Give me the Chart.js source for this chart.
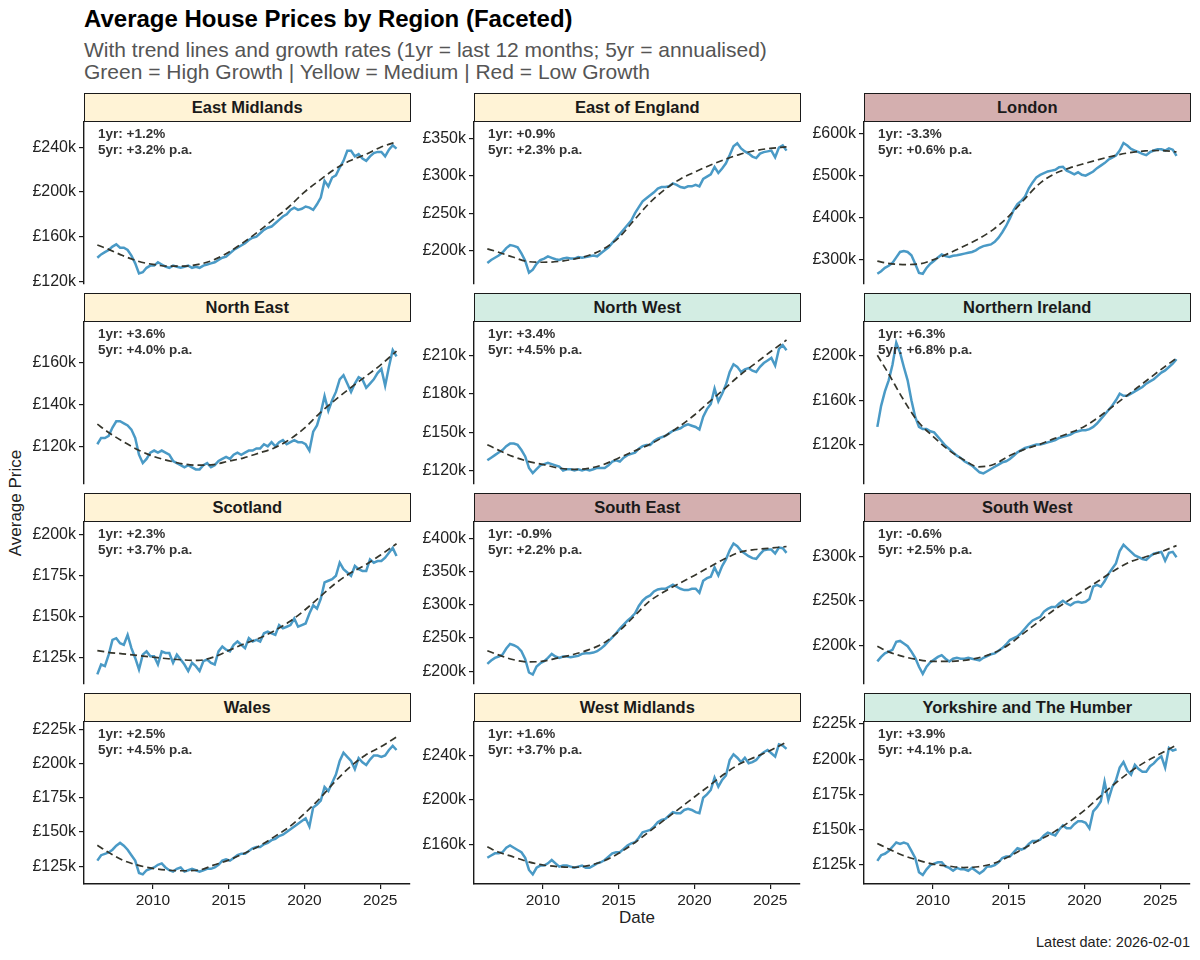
<!DOCTYPE html>
<html>
<head>
<meta charset="utf-8">
<script src="https://cdn.jsdelivr.net/npm/chart.js@4.4.1/dist/chart.umd.min.js"></script>
<style>
  body { margin: 0; background: #fff; font-family: "Liberation Sans", Arial, sans-serif; }
  #page { position: relative; width: 1200px; height: 960px; overflow: hidden; }
  .abs { position: absolute; }
  .title { left: 84px; top: 5px; font-size: 24px; font-weight: bold; color: #000; white-space: nowrap; }
  .subtitle { left: 84px; top: 39px; font-size: 21px; line-height: 21.5px; color: #555; white-space: nowrap; }
  .strip { box-sizing: border-box; border: 1.4px solid #1a1a1a; font-size: 16.5px; font-weight: bold;
           color: #1a1a1a; display: flex; align-items: center; justify-content: center; }
  .note { font-size: 13.5px; font-weight: bold; line-height: 15.7px; color: #333; white-space: nowrap; }
  .axis-title { font-size: 17px; color: #222; white-space: nowrap; }
  canvas { position: absolute; }
</style>
</head>
<body>
<div id="page">
  <div class="abs title">Average House Prices by Region (Faceted)</div>
  <div class="abs subtitle">With trend lines and growth rates (1yr = last 12 months; 5yr = annualised)<br>Green = High Growth | Yellow = Medium | Red = Low Growth</div>
  <div class="abs axis-title" style="left:16px; top:503px; transform: translate(-50%,-50%) rotate(-90deg);">Average Price</div>
  <div class="abs axis-title" style="left:637px; top:918px; transform: translate(-50%,-50%);">Date</div>
  <div class="abs" style="right:10px; top:934px; font-size:14.5px; color:#222;">Latest date: 2026-02-01</div>
</div>
<script>
// ---- data (prices in £ thousands) ----
const regions = ['East Midlands', 'East of England', 'London', 'North East', 'North West', 'Northern Ireland',
                 'Scotland', 'South East', 'South West', 'Wales', 'West Midlands', 'Yorkshire and The Humber'];
const growthBand = ['Medium', 'Medium', 'Low', 'Medium', 'High', 'High',
                    'Medium', 'Low', 'Low', 'Medium', 'Medium', 'High'];
const oneYear = ['+1.2%', '+0.9%', '-3.3%', '+3.6%', '+3.4%', '+6.3%', '+2.3%', '-0.9%', '-0.6%', '+2.5%', '+1.6%', '+3.9%'];
const fiveYear = ['+3.2%', '+2.3%', '+0.6%', '+4.0%', '+4.5%', '+6.8%', '+3.7%', '+2.2%', '+2.5%', '+4.5%', '+3.7%', '+4.1%'];

const dates = [
  2006.33, 2006.58, 2006.83,
  2007.08, 2007.33, 2007.58, 2007.83,
  2008.08, 2008.33, 2008.58, 2008.83,
  2009.08, 2009.33, 2009.58, 2009.83,
  2010.08, 2010.33, 2010.58, 2010.83,
  2011.08, 2011.33, 2011.58, 2011.83,
  2012.08, 2012.33, 2012.58, 2012.83,
  2013.08, 2013.33, 2013.58, 2013.83,
  2014.08, 2014.33, 2014.58, 2014.83,
  2015.08, 2015.33, 2015.58, 2015.83,
  2016.08, 2016.33, 2016.58, 2016.83,
  2017.08, 2017.33, 2017.58, 2017.83,
  2018.08, 2018.33, 2018.58, 2018.83,
  2019.08, 2019.33, 2019.58, 2019.83,
  2020.08, 2020.33, 2020.58, 2020.83,
  2021.08, 2021.33, 2021.58, 2021.83,
  2022.08, 2022.33, 2022.58, 2022.83,
  2023.08, 2023.33, 2023.58, 2023.83,
  2024.08, 2024.33, 2024.58, 2024.83,
  2025.08, 2025.33, 2025.58, 2025.83,
  2026.08
];

const eastMidlands = [141, 144, 146, 148, 151, 153, 150, 150, 148, 143, 136, 127, 128, 132, 134, 134, 137, 135, 133,
  132, 134, 133, 132, 133, 134, 132, 133, 132, 134, 135, 136, 137, 139, 141, 142, 145, 148, 150, 152,
  154, 157, 159, 160, 163, 166, 168, 169, 172, 175, 178, 180, 184, 186, 184, 185, 187, 186, 184, 189,
  195, 210, 205, 213, 215, 222, 228, 237, 237, 232, 234, 230, 228, 232, 235, 236, 236, 232, 238, 242, 239];
const eastOfEngland = [183, 187, 190, 193, 197, 203, 207, 206, 204, 196, 186, 170, 174, 182, 187, 189, 192, 190, 188,
  187, 189, 190, 189, 189, 191, 190, 191, 192, 193, 192, 196, 200, 204, 210, 216, 222, 228, 234, 240,
  250, 258, 266, 270, 274, 278, 283, 285, 285, 286, 290, 288, 285, 284, 286, 286, 288, 286, 296, 299,
  302, 312, 304, 310, 317, 328, 340, 344, 337, 333, 330, 326, 324, 330, 332, 333, 334, 325, 338, 341, 334];
const london = [266, 272, 280, 285, 292, 305, 318, 320, 318, 310, 290, 268, 266, 280, 290, 297, 305, 312, 308,
  306, 309, 310, 312, 314, 316, 318, 322, 328, 332, 334, 336, 342, 352, 365, 380, 398, 418, 432, 440,
  450, 470, 484, 496, 502, 506, 510, 512, 514, 520, 521, 512, 508, 503, 508, 502, 500, 505, 510, 518,
  524, 530, 538, 543, 548, 560, 578, 572, 564, 560, 556, 552, 549, 556, 560, 563, 563, 560, 565, 562, 547];
const northEast = [121, 124, 124, 125, 129, 132, 132, 131, 130, 128, 124, 116, 112, 114, 117, 118, 117, 118, 117,
  116, 113, 112, 111, 110, 111, 110, 109, 109, 111, 112, 110, 111, 113, 114, 115, 114, 116, 117, 116,
  117, 118, 118, 119, 119, 121, 120, 122, 120, 122, 123, 121, 122, 123, 122, 122, 121, 118, 127, 130,
  136, 144, 137, 142, 146, 152, 154, 150, 146, 150, 153, 152, 148, 150, 152, 155, 157, 149, 158, 166, 163];
const northWest = [128, 130, 132, 134, 136, 139, 141, 141, 140, 136, 131, 122, 118, 121, 124, 125, 126, 125, 124,
  123, 120, 121, 121, 120, 121, 120, 121, 120, 121, 122, 122, 122, 124, 127, 128, 127, 130, 132, 133,
  134, 137, 139, 140, 140, 143, 145, 146, 147, 149, 151, 152, 153, 155, 156, 155, 154, 152, 162, 168,
  172, 184, 174, 180, 187, 197, 203, 201, 197, 199, 200, 198, 197, 201, 204, 206, 208, 202, 215, 218, 214];
const northernIreland = [136, 155, 168, 178, 192, 212, 203, 190, 178, 160, 145, 136, 134, 134, 132, 131, 127, 123, 119,
  116, 113, 110, 108, 105, 103, 101, 98, 95, 94, 96, 98, 100, 102, 104, 105, 107, 110, 113, 115,
  117, 118, 119, 120, 120, 121, 122, 123, 124, 126, 127, 128, 129, 131, 132, 133, 133, 134, 136, 139,
  143, 147, 151, 155, 160, 166, 164, 164, 166, 168, 170, 172, 175, 177, 179, 182, 185, 187, 190, 193, 197];
const scotland = [115, 121, 120, 127, 136, 137, 134, 133, 139, 131, 125, 118, 127, 129, 126, 126, 121, 129, 128,
  128, 122, 127, 124, 121, 117, 122, 120, 117, 123, 124, 122, 121, 129, 132, 130, 129, 133, 135, 133,
  131, 137, 135, 136, 135, 140, 141, 140, 139, 145, 143, 144, 145, 149, 144, 145, 146, 152, 157, 155,
  161, 171, 172, 173, 175, 183, 179, 177, 175, 181, 179, 178, 178, 185, 183, 184, 184, 186, 189, 192, 187];
const southEast = [211, 216, 220, 222, 225, 234, 241, 239, 236, 230, 218, 198, 195, 207, 212, 215, 220, 226, 222,
  220, 222, 222, 221, 222, 223, 226, 227, 227, 228, 230, 234, 239, 245, 251, 257, 264, 270, 276, 281,
  287, 298, 306, 311, 314, 320, 323, 324, 324, 327, 330, 327, 324, 322, 322, 324, 324, 318, 336, 340,
  342, 356, 344, 358, 368, 382, 392, 388, 381, 377, 373, 370, 369, 376, 382, 383, 383, 377, 386, 385, 378];
const southWest = [182, 187, 191, 193, 195, 204, 205, 202, 199, 193, 186, 176, 168, 176, 181, 184, 187, 189, 185,
  182, 185, 186, 185, 185, 186, 185, 184, 183, 186, 188, 190, 191, 194, 197, 201, 206, 208, 210, 214,
  219, 224, 228, 230, 232, 238, 241, 243, 243, 247, 250, 247, 245, 248, 249, 248, 249, 252, 266, 268,
  266, 272, 280, 286, 292, 306, 313, 309, 305, 301, 299, 297, 296, 300, 303, 304, 305, 295, 304, 305, 299];
const wales = [129, 133, 134, 135, 137, 140, 142, 140, 137, 133, 129, 120, 119, 122, 123, 124, 126, 127, 124,
  122, 121, 123, 124, 121, 122, 123, 122, 121, 122, 123, 123, 124, 126, 129, 130, 129, 131, 133, 134,
  134, 136, 138, 139, 139, 141, 142, 144, 145, 147, 148, 150, 152, 154, 156, 158, 160, 154, 168, 170,
  173, 183, 180, 186, 192, 202, 208, 205, 202, 196, 204, 201, 199, 203, 206, 206, 205, 206, 210, 213, 210];
const westMidlands = [148, 150, 152, 152, 153, 157, 159, 157, 155, 153, 148, 137, 133, 139, 141, 141, 143, 146, 143,
  140, 141, 141, 140, 139, 140, 141, 139, 139, 141, 143, 144, 146, 149, 152, 153, 153, 156, 159, 161,
  162, 166, 171, 172, 173, 176, 180, 182, 183, 186, 189, 188, 188, 191, 192, 191, 189, 188, 202, 205,
  209, 220, 212, 218, 222, 236, 241, 238, 234, 238, 233, 234, 236, 240, 243, 245, 242, 239, 250, 249, 246];
const yorkshire = [128, 132, 133, 135, 138, 141, 140, 141, 140, 135, 130, 120, 118, 122, 125, 126, 127, 127, 124,
  123, 121, 123, 122, 122, 121, 123, 121, 119, 121, 124, 124, 125, 127, 130, 131, 131, 134, 137, 136,
  137, 140, 142, 142, 143, 146, 148, 147, 146, 150, 153, 151, 151, 154, 156, 156, 155, 151, 163, 166,
  170, 184, 171, 180, 185, 194, 198, 192, 189, 196, 193, 191, 191, 195, 197, 200, 202, 194, 208, 206, 207];

// smoothed trend, one value per year
const trendDates = [2006.33, 2007, 2008, 2009, 2010, 2011, 2012, 2013, 2014, 2015, 2016,
                    2017, 2018, 2019, 2020, 2021, 2022, 2023, 2024, 2025, 2026.08];
const trendEastMidlands = [152.5, 149, 143, 138, 135, 133.5, 133.5, 135, 139, 146, 155, 165, 176, 187, 200, 210.5, 220.5, 228, 233.5, 240, 245];
const trendEastOfEngland = [202, 198, 191, 185, 184, 185, 188, 193, 202, 217, 240, 263, 281, 295, 305, 314, 322, 329, 334, 337, 339];
const trendLondon = [296, 291, 288, 289, 299, 314, 331, 349, 372, 403, 442, 480, 504, 518, 529, 539, 548, 555, 559, 560, 557];
const trendNorthEast = [130.6, 127, 122.4, 118.4, 115.3, 113.2, 111.6, 111, 111.3, 112.9, 114.5, 116.8, 119.2, 123.2, 128.7, 135.8, 142, 147.7, 153.2, 158.7, 165.5];
const trendNorthWest = [140.2, 136.3, 131, 127.2, 124.7, 122, 120.8, 121.6, 124.7, 129.8, 135, 140.2, 146.6, 154.4, 163.4, 173.8, 184, 194.5, 203.5, 212.6, 222];
const trendNorthernIreland = [200.6, 185.7, 161.8, 141, 127.5, 115.5, 106.6, 100, 102, 109.6, 115.5, 120, 125.4, 130.4, 136.4, 145.4, 155.8, 166.3, 176.7, 187.2, 198];
const trendScotland = [129.5, 128.5, 127.5, 126.5, 125.5, 124.5, 123.8, 123.5, 125.5, 129.5, 133.5, 137, 141.5, 147, 154, 162, 170, 176.5, 181.5, 187.5, 194.5];
const trendSouthEast = [230.8, 225, 217.5, 214, 215, 220, 225, 232, 242, 259.7, 282, 304.5, 319.4, 332, 344, 356.7, 369, 379, 383, 385, 387.5];
const trendSouthWest = [199, 193.3, 187.7, 184, 182, 182, 183, 186, 191.4, 200.7, 213.8, 226.8, 239.8, 251, 262, 273.2, 284.4, 293.7, 299.3, 304.8, 312];
const trendWales = [140.3, 135.5, 129.4, 125.7, 123.3, 122, 121.6, 122, 125.7, 129.4, 134.2, 139.6, 146.4, 153.7, 163.4, 174.4, 186.6, 197.5, 206, 212.1, 219.5];
const trendWestMidlands = [158, 153.4, 149, 144.5, 141.5, 140, 139.4, 141, 145, 152, 161, 171.3, 181.8, 192.2, 202.7, 213, 223.6, 232.5, 238.5, 244.5, 252];
const trendYorkshire = [140.3, 136.8, 132, 128.5, 125.7, 124.3, 123.3, 123.8, 126.2, 130.9, 136.8, 142.6, 148.5, 155.6, 163.8, 173.2, 182.6, 190.9, 197.9, 203.8, 210];

const priceSeries = [eastMidlands, eastOfEngland, london, northEast, northWest, northernIreland,
                     scotland, southEast, southWest, wales, westMidlands, yorkshire];
const trendSeries = [trendEastMidlands, trendEastOfEngland, trendLondon, trendNorthEast, trendNorthWest, trendNorthernIreland,
                     trendScotland, trendSouthEast, trendSouthWest, trendWales, trendWestMidlands, trendYorkshire];

// y axis ticks and ranges per panel (£k)
const yTicks = [[120, 160, 200, 240], [200, 250, 300, 350], [300, 400, 500, 600],
                [120, 140, 160], [120, 150, 180, 210], [120, 160, 200],
                [125, 150, 175, 200], [200, 250, 300, 350, 400], [200, 250, 300],
                [125, 150, 175, 200, 225], [160, 200, 240], [125, 150, 175, 200, 225]];
const yRange = [[118, 263.2], [155.6, 373], [243, 629],
                [102.3, 179.6], [109.9, 236.4], [85, 231],
                [109.5, 208], [181.6, 425], [157.3, 339],
                [111.9, 230.8], [124.4, 270.5], [111.6, 226.6]];
const xTicks = [2010, 2015, 2020, 2025];
const xRange = [2005.45, 2026.97];

// ---- layout ----
const FONT = '"Liberation Sans", Arial, sans-serif';
const bandColour = { High: '#D3EDE3', Medium: '#FFF3D6', Low: '#D4AFAF' };
const colLeft = [84, 474, 864];
const rowTop = [121, 321, 521, 721];
const plotW = 326, plotH = 163, stripH = 28.5;
const axisW = 80, padTop = 12, padRight = 5, xAxisH = 30;

const page = document.getElementById('page');

regions.forEach((name, i) => {
  const col = i % 3, row = Math.floor(i / 3);
  const left = colLeft[col], top = rowTop[row];
  const bottomRow = row === 3;

  const strip = document.createElement('div');
  strip.className = 'abs strip';
  strip.style.cssText = `left:${left}px; top:${top - stripH}px; width:${plotW + 0.5}px; height:${stripH + 0.7}px; background:${bandColour[growthBand[i]]};`;
  strip.textContent = name;
  page.appendChild(strip);

  const canvas = document.createElement('canvas');
  const cw = axisW + plotW + padRight;
  const ch = padTop + plotH + (bottomRow ? xAxisH : padTop);
  canvas.width = cw; canvas.height = ch;
  canvas.style.left = (left - axisW) + 'px';
  canvas.style.top = (top - padTop) + 'px';
  canvas.style.width = cw + 'px'; canvas.style.height = ch + 'px';
  page.appendChild(canvas);

  const note = document.createElement('div');
  note.className = 'abs note';
  note.style.left = (left + 14) + 'px';
  note.style.top = (top + 5) + 'px';
  note.innerHTML = `1yr: ${oneYear[i]}<br>5yr: ${fiveYear[i]} p.a.`;
  page.appendChild(note);

  const tickGrid = { display: true, drawOnChartArea: false, drawTicks: true, tickLength: 5, color: '#1a1a1a', lineWidth: 1.2 };
  const axisBorder = { display: true, color: '#1a1a1a', width: 1.4 };

  new Chart(canvas, {
    type: 'line',
    data: {
      datasets: [
        {
          data: trendDates.map((x, j) => ({ x: x, y: trendSeries[i][j] })),
          borderColor: '#35352b',
          borderWidth: 1.7,
          borderDash: [7, 4],
          pointRadius: 0,
          cubicInterpolationMode: 'monotone',
          fill: false
        },
        {
          data: dates.map((x, j) => ({ x: x, y: priceSeries[i][j] })),
          borderColor: '#4A9AC6',
          borderWidth: 2.5,
          pointRadius: 0,
          tension: 0,
          fill: false
        }
      ]
    },
    options: {
      responsive: false,
      animation: false,
      layout: { padding: { top: padTop, right: padRight, bottom: bottomRow ? 0 : padTop, left: 0 } },
      plugins: { legend: { display: false }, tooltip: { enabled: false } },
      scales: {
        x: {
          type: 'linear',
          display: bottomRow,
          min: xRange[0], max: xRange[1],
          afterBuildTicks: scale => { scale.ticks = xTicks.map(v => ({ value: v })); },
          afterFit: scale => { scale.height = bottomRow ? xAxisH : 0; },
          grid: tickGrid,
          border: axisBorder,
          ticks: { color: '#222', font: { family: FONT, size: 15.5 }, padding: 2, maxRotation: 0,
                   callback: v => String(v) }
        },
        y: {
          type: 'linear',
          min: yRange[i][0], max: yRange[i][1],
          afterBuildTicks: scale => { scale.ticks = yTicks[i].map(v => ({ value: v })); },
          afterFit: scale => { scale.width = axisW; },
          grid: tickGrid,
          border: axisBorder,
          ticks: { color: '#222', font: { family: FONT, size: 16 }, padding: 3,
                   callback: v => '£' + v + 'k' }
        }
      }
    }
  });
});
</script>
</body>
</html>
